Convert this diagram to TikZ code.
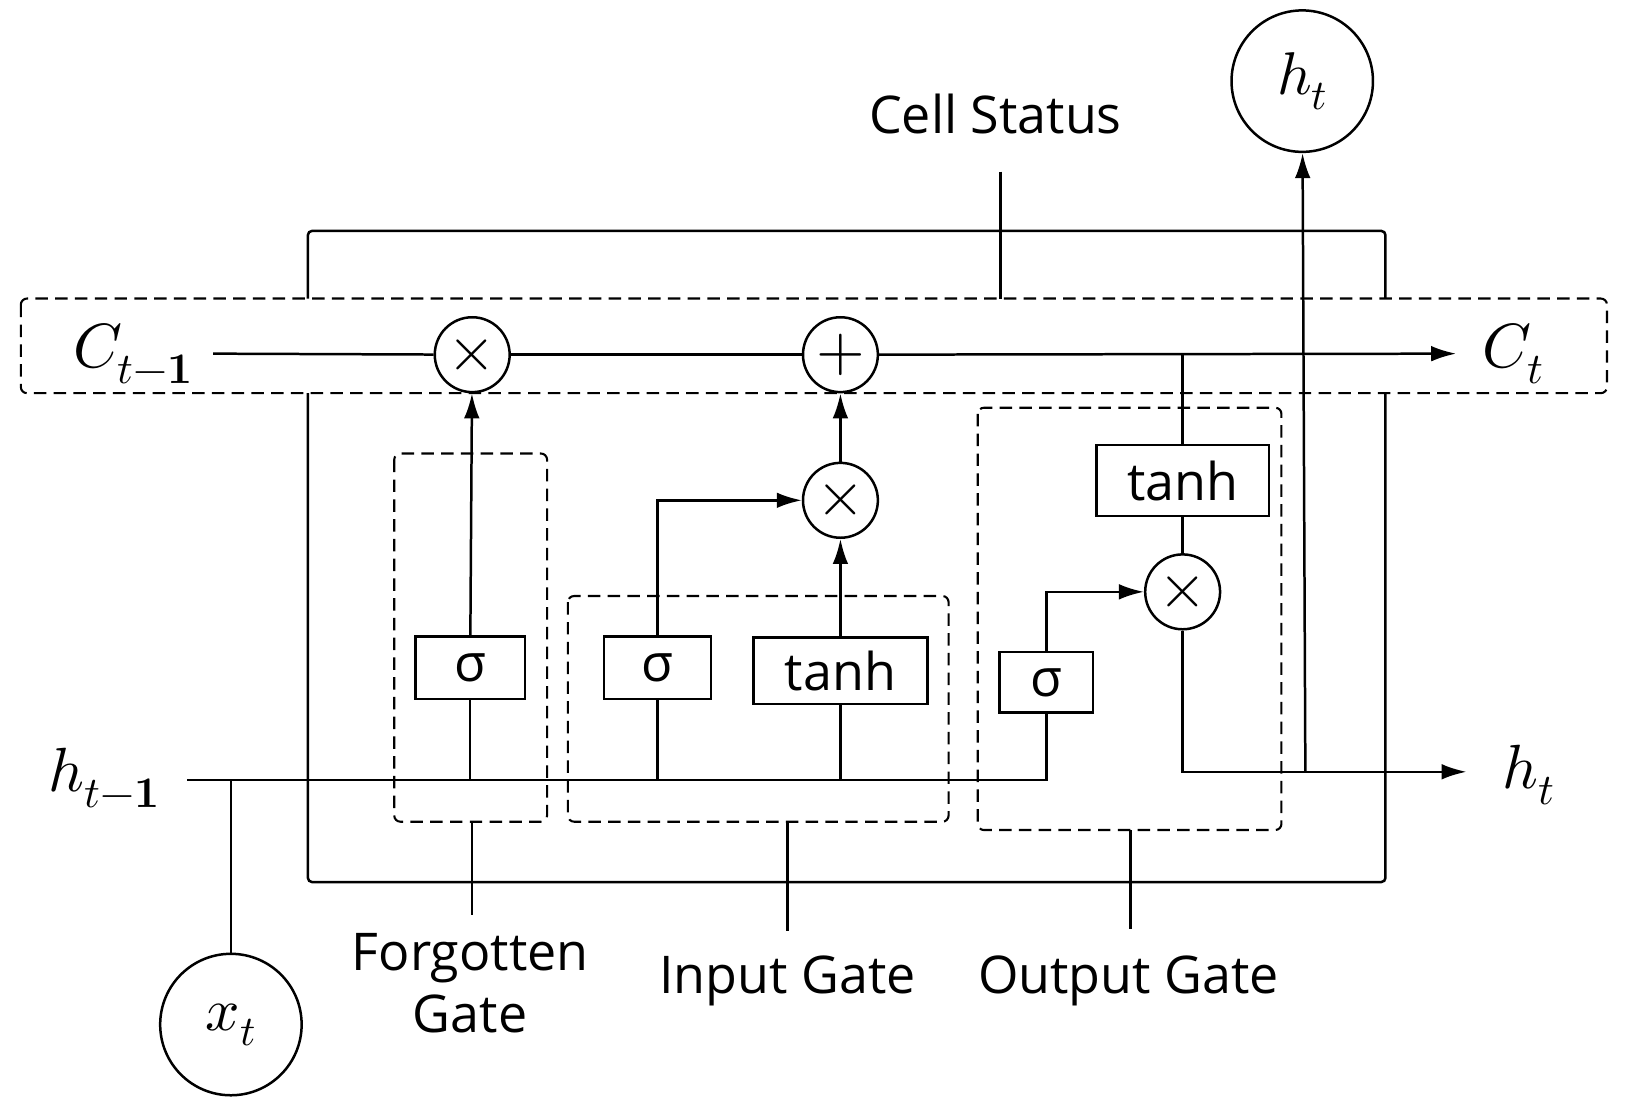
\documentclass[tikz,border=0pt]{standalone}
\usepackage{fontspec}
\setmainfont{Open Sans}
\usepackage{unicode-math}
\setmathfont{Latin Modern Math}
\usetikzlibrary{arrows.meta}
\begin{document}
\begin{tikzpicture}[x=1pt,y=-1pt,line width=2.4pt,
  arr/.style={-{Latex[length=24pt,width=15pt]}},
  dbox/.style={draw,dashed,dash pattern=on 12pt off 7pt,rounded corners=6pt,line width=2pt},
  op/.style={draw,circle,minimum size=72pt,inner sep=0pt,font=\fontsize{60}{60}\selectfont},
  big/.style={draw,circle,minimum size=136pt,inner sep=0pt,font=\fontsize{58}{58}\selectfont},
  fn/.style={draw,inner sep=0pt,font=\fontsize{50}{50}\selectfont},
  lab/.style={font=\fontsize{50}{60}\selectfont,align=center},
  mlab/.style={font=\fontsize{60}{60}\selectfont}]
\useasboundingbox (0,0) rectangle (1570,1072);
% outer box
\draw[rounded corners=4pt] (296,287) -- (296,222) -- (1332,222) -- (1332,287);
\draw[rounded corners=4pt] (296,378) -- (296,848) -- (1332,848) -- (1332,378);
% cell status band
\draw[dbox] (20,287) rectangle (1545,378);
\node[lab] (cs) at (957,110) {Cell Status};
\coordinate (csb) at (962,165);
\draw (csb) -- (962,287);
% nodes
\node[mlab] (cprev) at (128,340) {$C_{t-\symbf{1}}$};
\node[mlab] (ct) at (1455,340) {$C_t$};
\node[mlab] (hprev) at (100,748) {$h_{t-\symbf{1}}$};
\node[mlab] (hr) at (1470,745) {$h_t$};
\node[big] (htop) at (1252,78) {$h_t$};
\node[big] (xt) at (222,985) {$x_t$};
\node[op] (m1) at (454,341) {$\times$};
\node[op] (p1) at (808,341) {$+$};
\node[op] (m2) at (808,481) {$\times$};
\node[op] (m3) at (1137,569) {$\times$};
% gate boxes
\draw[dbox] (379,436) rectangle (526,790);
\draw[dbox] (546,573) rectangle (912,790);
\draw[dbox] (940,392) rectangle (1232,798);
\node[fn,minimum width=105pt,minimum height=60pt] (s1) at (452,642) {σ};
\node[fn,minimum width=103pt,minimum height=60pt] (s2) at (632,642) {σ};
\node[fn,minimum width=167pt,minimum height=64pt] (t1) at (808,645) {tanh};
\node[fn,minimum width=166pt,minimum height=68pt] (t2) at (1137,462) {tanh};
\node[fn,minimum width=90pt,minimum height=58pt] (s3) at (1006,656) {σ};
% cell line
\coordinate (cs0) at (205,340);
\draw (cs0) -- (m1);
\draw (m1) -- (p1);
\draw[arr] (p1) -- (1400,340) coordinate (cend);
% h line
\coordinate (h0) at (180,750);
\coordinate (hk) at (1006,750);
\draw (h0) -- (hk) -- (s3.south);
\draw (xt) -- (222,750);
\draw (s1.south |- h0) -- (s1.south);
\draw (s2.south |- h0) -- (s2.south);
\draw (t1.south |- h0) -- (t1.south);
\draw[arr] (s1) -- (m1);
\draw[arr] (t1) -- (m2);
\draw[arr] (m2) -- (p1);
\draw[arr] (s2.north) |- (m2.west);
\draw[arr] (s3.north) |- (m3.west);
\draw (1137,340) -- (t2.north);
\draw (t2) -- (m3);
\coordinate (hj) at (1255,742);
\draw[arr] (m3.south) |- (1410,742);
\draw[arr] (hj) -- (htop);
% labels
\node[lab] (fg) at (452,945) {Forgotten\\Gate};
\node[lab] (ig) at (757,943) {Input Gate};
\node[lab] (og) at (1085,943) {Output Gate};
\draw (454,790) -- (454,880);
\draw (757,790) -- (757,895);
\draw (1087,798) -- (1087,893);
\end{tikzpicture}
\end{document}
